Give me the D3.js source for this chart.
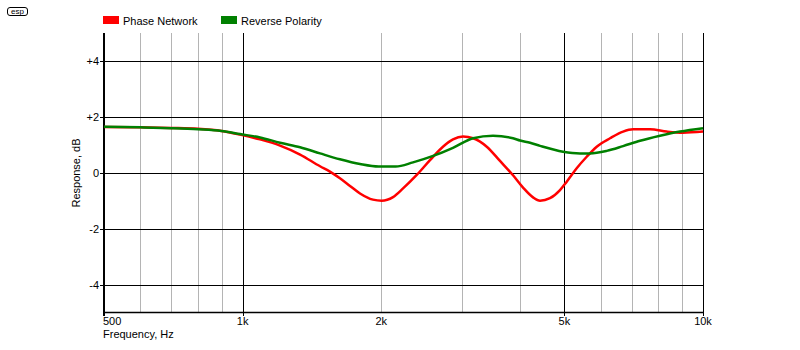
<!DOCTYPE html>
<html><head><meta charset="utf-8">
<script src="https://cdn.jsdelivr.net/npm/d3@7"></script>
<style>body{margin:0;background:#fff}svg{display:block}text{font-family:"Liberation Sans",Arial,sans-serif;font-size:11px;fill:#000}</style>
</head><body><svg id="c" width="800" height="350"></svg>
<script>
const seriesNames = ["Phase Network", "Reverse Polarity"];
const seriesColors = ["#ff0000", "#008000"];
const redFreq = [500,600,700,800,900,987,1091,1206,1333,1473,1548,1627,1711,1799,1919,2005,2122,2231,2389,2553,2724,2864,3012,3166,3391,3623,3867,4066,4274,4426,4652,4891,5058,5317,5590,5877,6281,6706,7047,7674,8342,9045,10000];
const redVals = [1.64,1.63,1.61,1.58,1.50,1.37,1.20,0.98,0.66,0.24,0.05,-0.19,-0.46,-0.73,-0.95,-0.99,-0.86,-0.55,-0.07,0.46,0.94,1.20,1.30,1.24,0.94,0.43,-0.08,-0.52,-0.87,-0.99,-0.90,-0.61,-0.31,0.17,0.58,0.94,1.24,1.48,1.56,1.56,1.48,1.44,1.48];
const greenFreq = [500,600,700,800,900,987,1091,1206,1333,1473,1627,1799,1974,2150,2345,2593,2864,3166,3499,3867,4005,4211,4426,4965,5405,5682,6180,6706,7299,8066,8914,10000];
const greenVals = [1.65,1.63,1.60,1.56,1.50,1.39,1.27,1.08,0.92,0.70,0.49,0.32,0.23,0.23,0.38,0.61,0.90,1.24,1.33,1.24,1.16,1.08,0.97,0.76,0.70,0.70,0.79,0.96,1.15,1.33,1.48,1.60];
const yTicks = [-4,-2,0,2,4];
const yTickLabels = ["-4","-2","0","+2","+4"];
const xMajor = [1000,5000];
const xMinor = [600,700,800,900,2000,3000,4000,6000,7000,8000,9000];
const xTickVals = [500,1000,2000,5000,10000];
const xTickLabels = ["500","1k","2k","5k","10k"];

const svg = d3.select("#c");
const L=104, R=703, T=33, B=313;
const x = d3.scaleLog().domain([500,10000]).range([L,R]);
const y = d3.scaleLinear().domain([-5,5]).range([B,T]);

// logo
svg.append("rect").attr("x",7.5).attr("y",7.5).attr("width",20).attr("height",8).attr("rx",2.5).attr("fill","none").attr("stroke","#000").attr("stroke-width",1);
svg.append("text").attr("x",17.5).attr("y",14).attr("text-anchor","middle").style("font-size","8px").text("esp");

// legend
const lg = [[103,seriesNames[0],seriesColors[0]],[221,seriesNames[1],seriesColors[1]]];
lg.forEach(d=>{
  svg.append("rect").attr("x",d[0]).attr("y",16).attr("width",16).attr("height",8).attr("fill",d[2]);
  svg.append("text").attr("x",d[0]+20).attr("y",24.5).text(d[1]);
});

// minor grid
svg.append("g").selectAll("line").data(xMinor).join("line")
  .attr("x1",d=>Math.round(x(d))+0.5).attr("x2",d=>Math.round(x(d))+0.5).attr("y1",T).attr("y2",B)
  .attr("stroke","#b4b4b4").attr("stroke-width",1);
// horizontal grid
svg.append("g").selectAll("line").data(yTicks).join("line")
  .attr("x1",L-4).attr("x2",R).attr("y1",d=>Math.round(y(d))+0.5).attr("y2",d=>Math.round(y(d))+0.5)
  .attr("stroke","#000").attr("stroke-width",1);
// major vertical
svg.append("g").selectAll("line").data(xMajor.concat([10000])).join("line")
  .attr("x1",d=>Math.round(x(d))+0.5).attr("x2",d=>Math.round(x(d))+0.5).attr("y1",T).attr("y2",B+3)
  .attr("stroke","#000").attr("stroke-width",1);
// axes lines
svg.append("line").attr("x1",L).attr("x2",L).attr("y1",T).attr("y2",B+3).attr("stroke","#000").attr("stroke-width",2);
svg.append("line").attr("x1",L).attr("x2",R).attr("y1",B-0.5).attr("y2",B-0.5).attr("stroke","#000").attr("stroke-width",1.5);

// y labels
svg.append("g").selectAll("text").data(yTicks).join("text")
  .attr("x",L-5).attr("y",d=>y(d)+4).attr("text-anchor","end").text((d,i)=>yTickLabels[i]);
// x labels
svg.append("g").selectAll("text").data(xTickVals).join("text")
  .attr("x",d=>d===500?L-1:x(d)).attr("y",325).attr("text-anchor",d=>d===500?"start":"middle").text((d,i)=>xTickLabels[i]);

svg.append("text").attr("x",L-1).attr("y",338).text("Frequency, Hz");
svg.append("text").attr("transform",`translate(80,${y(0)}) rotate(-90)`).attr("text-anchor","middle").text("Response, dB");

const line = d3.line().x(d=>x(d[0])).y(d=>y(d[1])).curve(d3.curveMonotoneX);
const plot = svg.append("g");
plot.append("path").datum(redFreq.map((f,i)=>[f,redVals[i]])).attr("d",line).attr("fill","none").attr("stroke",seriesColors[0]).attr("stroke-width",2.5);
plot.append("path").datum(greenFreq.map((f,i)=>[f,greenVals[i]])).attr("d",line).attr("fill","none").attr("stroke",seriesColors[1]).attr("stroke-width",2.5);
</script></body></html>
